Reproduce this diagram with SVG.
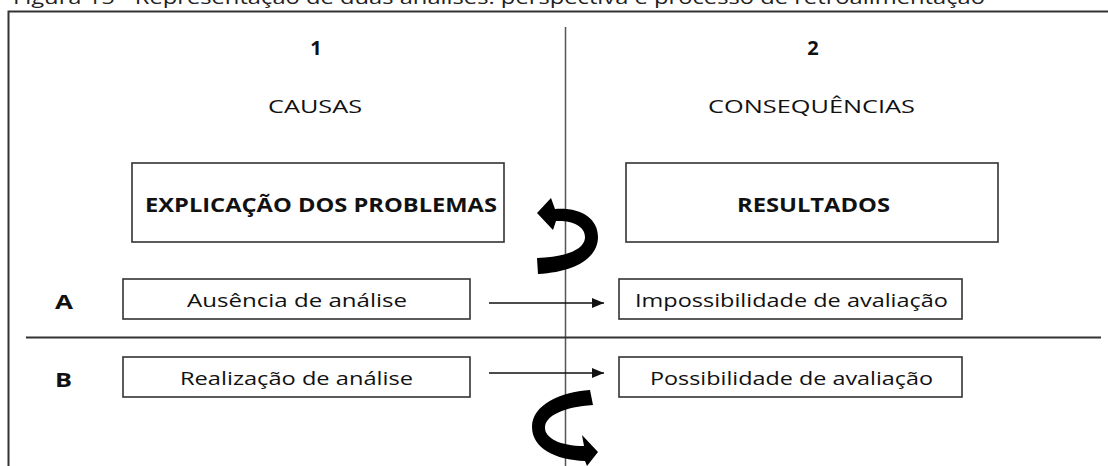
<svg xmlns="http://www.w3.org/2000/svg" width="1108" height="466" viewBox="0 0 1108 466">
<style>
  text { font-family: "Open Sans", Lato, "Liberation Sans", sans-serif; fill: #111; }
  .lbl { font-size: 19px; }
  .bold { font-size: 20px; font-weight: bold; }
  .title { font-size: 18px; fill: #222; }
  .box { fill: #fff; stroke: #333; stroke-width: 1.6; }
  .frame { fill: none; stroke: #333; stroke-width: 2; }
  .conn { stroke: #111; stroke-width: 1.5; fill: none; }
  .loop { fill: #000; stroke: none; }
</style>
<defs>
  <marker id="ah" viewBox="0 0 12 10" refX="12" refY="5" markerWidth="12" markerHeight="10" markerUnits="userSpaceOnUse" orient="auto">
    <path d="M0,0 L12,5 L0,10 Z" fill="#111"/>
  </marker>
</defs>
<rect width="1108" height="466" fill="#fff"/>

<text class="title" x="13" y="4" textLength="972" lengthAdjust="spacingAndGlyphs">Figura 15 - Representação de duas análises: perspectiva e processo de retroalimentação</text>

<path class="frame" d="M8.5,466 L8.5,11.5 L1108,11.5"/>
<line x1="565.5" y1="27" x2="565.5" y2="466" stroke="#555" stroke-width="1.5"/>
<line x1="26" y1="337.5" x2="1101" y2="337.5" stroke="#333" stroke-width="2"/>

<g id="col1-header">
  <text class="bold" x="316" y="55" text-anchor="middle">1</text>
  <text class="lbl" x="268" y="113" textLength="94" lengthAdjust="spacingAndGlyphs">CAUSAS</text>
</g>
<g id="col2-header">
  <text class="bold" x="813" y="55" text-anchor="middle">2</text>
  <text class="lbl" x="708" y="113" textLength="207" lengthAdjust="spacingAndGlyphs">CONSEQUÊNCIAS</text>
</g>

<g id="explicacao">
  <rect class="box" x="132" y="163" width="372" height="79"/>
  <text class="bold" x="145" y="212" textLength="352" lengthAdjust="spacingAndGlyphs">EXPLICAÇÃO DOS PROBLEMAS</text>
</g>
<g id="resultados">
  <rect class="box" x="626" y="163" width="372" height="79"/>
  <text class="bold" x="737" y="212" textLength="153" lengthAdjust="spacingAndGlyphs">RESULTADOS</text>
</g>

<g id="row-a-label">
  <text class="bold" x="55" y="309" textLength="18" lengthAdjust="spacingAndGlyphs">A</text>
</g>
<g id="ausencia">
  <rect class="box" x="123" y="279" width="347" height="40"/>
  <text class="lbl" x="187" y="307" textLength="220" lengthAdjust="spacingAndGlyphs">Ausência de análise</text>
</g>
<g id="impossibilidade">
  <rect class="box" x="619" y="279" width="343" height="40"/>
  <text class="lbl" x="635" y="307" textLength="313" lengthAdjust="spacingAndGlyphs">Impossibilidade de avaliação</text>
</g>

<g id="row-b-label">
  <text class="bold" x="55" y="387" textLength="17" lengthAdjust="spacingAndGlyphs">B</text>
</g>
<g id="realizacao">
  <rect class="box" x="123" y="357" width="347" height="40"/>
  <text class="lbl" x="180" y="385" textLength="233" lengthAdjust="spacingAndGlyphs">Realização de análise</text>
</g>
<g id="possibilidade">
  <rect class="box" x="619" y="357" width="343" height="40"/>
  <text class="lbl" x="650" y="385" textLength="283" lengthAdjust="spacingAndGlyphs">Possibilidade de avaliação</text>
</g>

<g id="connectors">
  <line class="conn" x1="489" y1="303" x2="604" y2="303" marker-end="url(#ah)"/>
  <line class="conn" x1="489" y1="373" x2="604" y2="373" marker-end="url(#ah)"/>
  <path class="loop" d="M537,258 C565,257 585,250 585,237 C585,225 570,220 556,221 L553,230 L537,213 L551,198 L555,209 C580,207 598,218 598,237 C598,258 575,272 538,274 Z"/>
  <path class="loop" d="M590,390 C560,392 532,405 532,427 C532,448 555,460 585,461 L587,466 L598,452 L582,435 L584,446 C560,446 545,438 545,428 C545,415 565,407 593,405 Z"/>
</g>
</svg>
